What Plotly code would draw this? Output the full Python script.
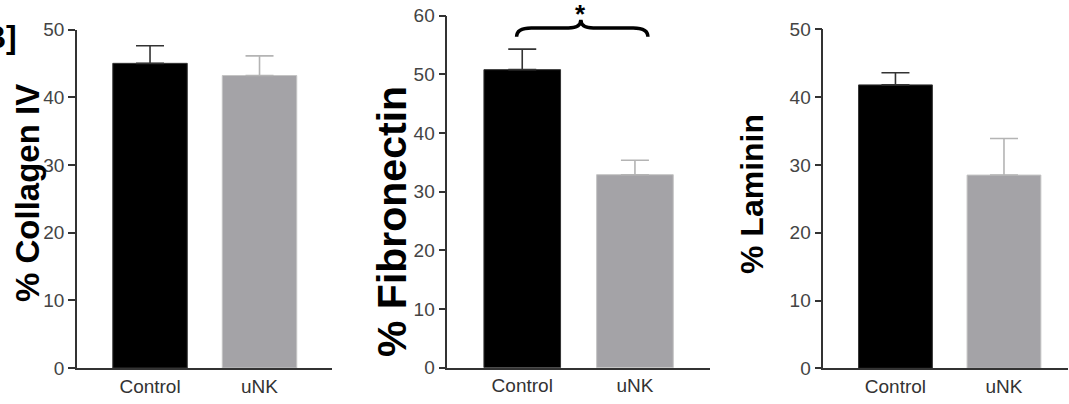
import plotly.graph_objects as go

categories = ["Control", "uNK"]
collagen_mean = [45.0, 43.2]
collagen_sem = [2.6, 2.9]
fibronectin_mean = [50.8, 32.9]
fibronectin_sem = [3.5, 2.45]
laminin_mean = [41.8, 28.5]
laminin_sem = [1.8, 5.4]
y_titles = ["% Collagen IV", "% Fibronectin", "% Laminin"]
y_max = [50, 60, 50]
y_ticks = [[0, 10, 20, 30, 40, 50], [0, 10, 20, 30, 40, 50, 60], [0, 10, 20, 30, 40, 50]]

bar_colors = ["#000000", "#a4a3a7"]
bar_lines = ["#333333", "#c4c4c4"]
err_colors = ["#333333", "#b4b4b4"]

W, H = 1069, 404
FONT = "Arial, Liberation Sans, sans-serif"

means = [collagen_mean, fibronectin_mean, laminin_mean]
sems = [collagen_sem, fibronectin_sem, laminin_sem]

# layout geometry (pixels)
x_dom_px = [(77, 332), (447.3, 710), (823.3, 1068)]
y_dom_px = [(368, 29.5), (367.7, 15.7), (368.3, 29.3)]
x_ranges = [[-0.667, 1.662], [-0.665, 1.666], [-0.665, 1.59]]

fig = go.Figure()
xpos = list(range(len(categories)))

for p in range(3):
    xa = "x" if p == 0 else f"x{p+1}"
    ya = "y" if p == 0 else f"y{p+1}"
    for i, cat in enumerate(categories):
        fig.add_trace(go.Bar(
            x=[xpos[i]], y=[means[p][i]], width=0.68,
            marker=dict(color=bar_colors[i], line=dict(color=bar_lines[i], width=1)),
            error_y=dict(type="data", array=[sems[p][i]], arrayminus=[0], symmetric=False,
                         color=err_colors[i], thickness=1.6, width=14),
            xaxis=xa, yaxis=ya, showlegend=False, name=cat, hoverinfo="skip",
        ))

layout = dict(
    template="none",
    width=W, height=H, autosize=False, margin=dict(l=0, r=0, t=0, b=0, pad=0),
    paper_bgcolor="white", plot_bgcolor="white", barmode="overlay",
    font=dict(family=FONT, color="#333333"),
)
annotations = []
for p in range(3):
    sx = "" if p == 0 else str(p + 1)
    x0, x1 = x_dom_px[p]
    yb, yt = y_dom_px[p]
    layout[f"xaxis{sx}"] = dict(
        domain=[x0 / W, min(x1 / W, 1.0)], range=x_ranges[p], anchor=f"y{sx}",
        tickvals=xpos, ticktext=categories, showline=True, linecolor="#333333", linewidth=1.5,
        ticks="", showgrid=False, zeroline=False, automargin=False,
        tickfont=dict(family=FONT, size=19, color="#333333"),
    )
    layout[f"yaxis{sx}"] = dict(
        domain=[(H - yb) / H, (H - yt) / H], range=[0, y_max[p]], anchor=f"x{sx}",
        tickvals=y_ticks[p], showline=True, linecolor="#333333", linewidth=1.5,
        ticks="outside", ticklen=7, tickwidth=1.5, tickcolor="#333333",
        showgrid=False, zeroline=False, automargin=False,
        tickfont=dict(family=FONT, size=19, color="#444444"),
    )

title_x_px = [27, 392, 752]
title_y_px = [193, 222, 194]
title_sizes = [33, 41, 32]
for p in range(3):
    annotations.append(dict(
        text=f"<b>{y_titles[p]}</b>", textangle=-90, xref="paper", yref="paper",
        x=title_x_px[p] / W, y=(H - title_y_px[p]) / H, xanchor="center", yanchor="middle",
        showarrow=False, font=dict(family=FONT, size=title_sizes[p], color="#000000"),
    ))

annotations.append(dict(
    text="<b>B]</b>", xref="paper", yref="paper", x=19 / W, y=(H - 37) / H,
    xanchor="right", yanchor="middle", showarrow=False,
    font=dict(family=FONT, size=32, color="#000000"),
))

# significance brace over Fibronectin panel (data coords of panel 2)
bx_a, bx_b, bx_m = -0.05, 1.115, 0.52
by_end, by_body, by_peak = 56.4, 57.9, 59.3
path = (f"M {bx_a},{by_end} Q {bx_a},{by_body} {bx_a+0.13},{by_body} "
        f"L {bx_m-0.11},{by_body} Q {bx_m},{by_body} {bx_m},{by_peak} "
        f"Q {bx_m},{by_body} {bx_m+0.11},{by_body} "
        f"L {bx_b-0.13},{by_body} Q {bx_b},{by_body} {bx_b},{by_end}")
layout["shapes"] = [dict(type="path", path=path, xref="x2", yref="y2",
                         line=dict(color="#000000", width=3.5))]
annotations.append(dict(
    text="<b>*</b>", xref="x2", yref="paper", x=bx_m, y=(H - 14) / H,
    xanchor="center", yanchor="middle", showarrow=False,
    font=dict(family=FONT, size=26, color="#000000"),
))
layout["annotations"] = annotations
fig.update_layout(**layout)
fig.write_html(
    "out.html",
    config={"displayModeBar": False},
    post_script="document.body.style.margin='0';document.body.style.overflow='hidden';",
)
